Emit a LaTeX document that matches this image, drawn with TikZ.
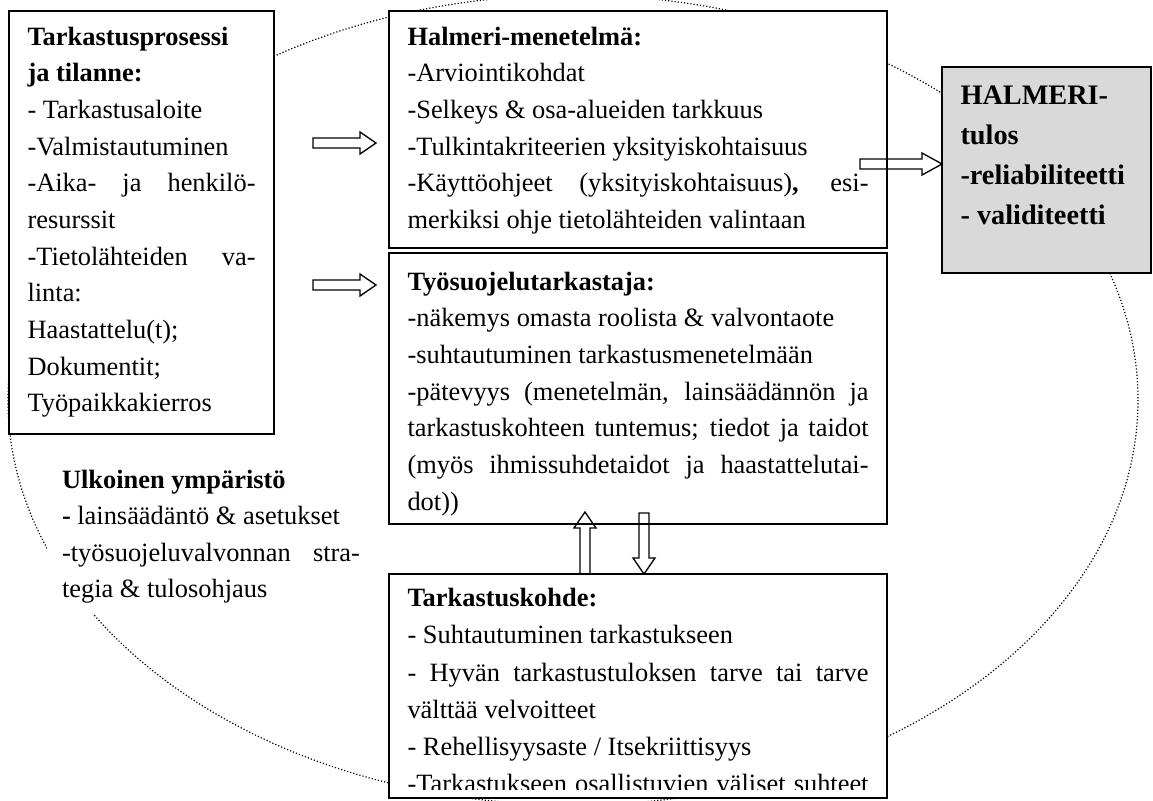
\documentclass[tikz,border=0pt]{standalone}
\usepackage{fontspec}
\setmainfont{Liberation Serif}
\usetikzlibrary{calc}
\definecolor{resultgray}{RGB}{217,217,217}
\newcommand\lrow[1]{\makebox[\linewidth][l]{#1}}
\newcommand\jrow[1]{\makebox[\linewidth][s]{#1}}
\tikzset{every picture/.style={line width=0.75pt}}
\tikzset{
  panel/.style={draw, fill=white, line width=1.3pt, anchor=north west, outer sep=0pt,
    inner xsep=13.9pt, inner ysep=0pt, font=\fontsize{19.8pt}{27.5pt}\selectfont},
  orbit/.style={line width=0.9pt, dash pattern=on 0.9pt off 1.5pt},
  headlen/.store in=\headlen, headlen=12pt,
  hollow/.style={draw, line width=1pt, line join=miter,
    to path={
      ($(\tikztotarget)!\headlen!(\tikztostart)$) coordinate (hb)
      ($(\tikztostart)!3.75pt!90:(\tikztotarget)$)
        -- ($(hb)!3.75pt!90:(\tikztotarget)$)
        -- ($(hb)!8.25pt!90:(\tikztotarget)$)
        -- (\tikztotarget)
        -- ($(hb)!8.25pt!-90:(\tikztotarget)$)
        -- ($(hb)!3.75pt!-90:(\tikztotarget)$)
        -- ($(\tikztostart)!3.75pt!-90:(\tikztotarget)$)
        -- cycle}}
}
\begin{document}
\begin{tikzpicture}[x=0.75pt,y=0.75pt,yscale=-1,xscale=1]
\useasboundingbox (0,0) rectangle (1153,800);

%Shape: Ellipse [outer environment]
\draw[orbit] (573,400) ellipse [x radius=565, y radius=405];

%Text box: process
\node[panel] (process) at (9,11) {\parbox[c][317.25pt][t]{171pt}{%
\lrow{\rule{0pt}{25.5pt}\textbf{Tarkastusprosessi}}\\
\lrow{\textbf{ja tilanne:}}\\
\lrow{- Tarkastusaloite}\\
\lrow{-Valmistautuminen}\\
\jrow{-Aika- ja henkilö-}\\
\lrow{resurssit}\\
\jrow{-Tietolähteiden va-}\\
\lrow{linta:}\\
\lrow{Haastattelu(t);}\\
\lrow{Dokumentit;}\\
\lrow{Työpaikkakierros}}};

%Text box: method
\node[panel] (method) at (389,11) {\parbox[c][177.75pt][t]{345.75pt}{%
\lrow{\rule{0pt}{25.5pt}\textbf{Halmeri-menetelmä:}}\\
\lrow{-Arviointikohdat}\\
\lrow{-Selkeys \& osa-alueiden tarkkuus}\\
\lrow{-Tulkintakriteerien yksityiskohtaisuus}\\
\jrow{-Käyttöohjeet (yksityiskohtaisuus)\textbf{,} esi-}\\
\lrow{merkiksi ohje tietolähteiden valintaan}}};

%Text box: inspector
\node[panel] (inspector) at (389,253) {\parbox[c][203.25pt][t]{345.75pt}{%
\lrow{\rule{0pt}{27.75pt}\textbf{Työsuojelutarkastaja:}}\\
\lrow{-näkemys omasta roolista \& valvontaote}\\
\lrow{-suhtautuminen tarkastusmenetelmään}\\
\jrow{-pätevyys (menetelmän, lainsäädännön ja}\\
\jrow{tarkastuskohteen tuntemus; tiedot ja taidot}\\
\jrow{(myös ihmissuhdetaidot ja haastattelutai-}\\
\lrow{dot))}}};

%Text box: target (last line cut by the frame)
\node[panel, minimum width=373.5pt, minimum height=168pt] (target) at (389,574) {};
\begin{scope}
\clip (389,574) rectangle (887,789);
\node[anchor=north west, outer sep=0pt, inner xsep=13.9pt, inner ysep=0pt,
  font=\fontsize{19.8pt}{27.9pt}\selectfont] (targettext) at (target.north west) {\parbox[c][168pt][t]{345.75pt}{%
\lrow{\rule{0pt}{24.5pt}\textbf{Tarkastuskohde:}}\\
\lrow{- Suhtautuminen tarkastukseen}\\
\jrow{- Hyvän tarkastustuloksen tarve tai tarve}\\
\lrow{välttää velvoitteet}\\
\lrow{- Rehellisyysaste / Itsekriittisyys}\\
\jrow{-Tarkastukseen osallistuvien väliset suhteet}}};
\end{scope}

%Text box: result
\node[panel, fill=resultgray, font=\fontsize{21.2pt}{30pt}\selectfont\bfseries] (result) at (942,67) {\parbox[c][154.5pt][t]{129pt}{%
\lrow{\rule{0pt}{27.75pt}HALMERI-}\\
\lrow{tulos}\\
\lrow{-reliabiliteetti}\\
\lrow{- validiteetti}}};

%Text: environment
\node[anchor=north west, fill=white, outer sep=0pt, inner xsep=11.25pt, inner ysep=0pt,
  font=\fontsize{19.8pt}{27.4pt}\selectfont] (environment) at (47,458) {\parbox[c][117pt][t]{223.5pt}{%
\lrow{\rule{0pt}{22.5pt}\textbf{Ulkoinen ympäristö}}\\
\lrow{\textbf{-} lainsäädäntö \& asetukset}\\
\jrow{-työsuojeluvalvonnan stra-}\\
\lrow{tegia \& tulosohjaus}}};

%Block arrows
\coordinate (feed1) at (313,143);
\coordinate (feed1tip) at (376,143);
\coordinate (feed2) at (313,285);
\coordinate (feed2tip) at (376,285);
\coordinate (out) at (860,164);
\coordinate (outtip) at (result.west |- out);
\coordinate (up) at (585,574);
\coordinate (uptip) at (585,512);
\coordinate (down) at (644,513);
\coordinate (downtip) at (644,574);
\draw[hollow] (feed1) to (feed1tip);
\draw[hollow] (feed2) to (feed2tip);
\draw[hollow, headlen=15pt] (out) to (outtip);
\draw[hollow] (up) to (uptip);
\draw[hollow] (down) to (downtip);

\end{tikzpicture}
\end{document}
